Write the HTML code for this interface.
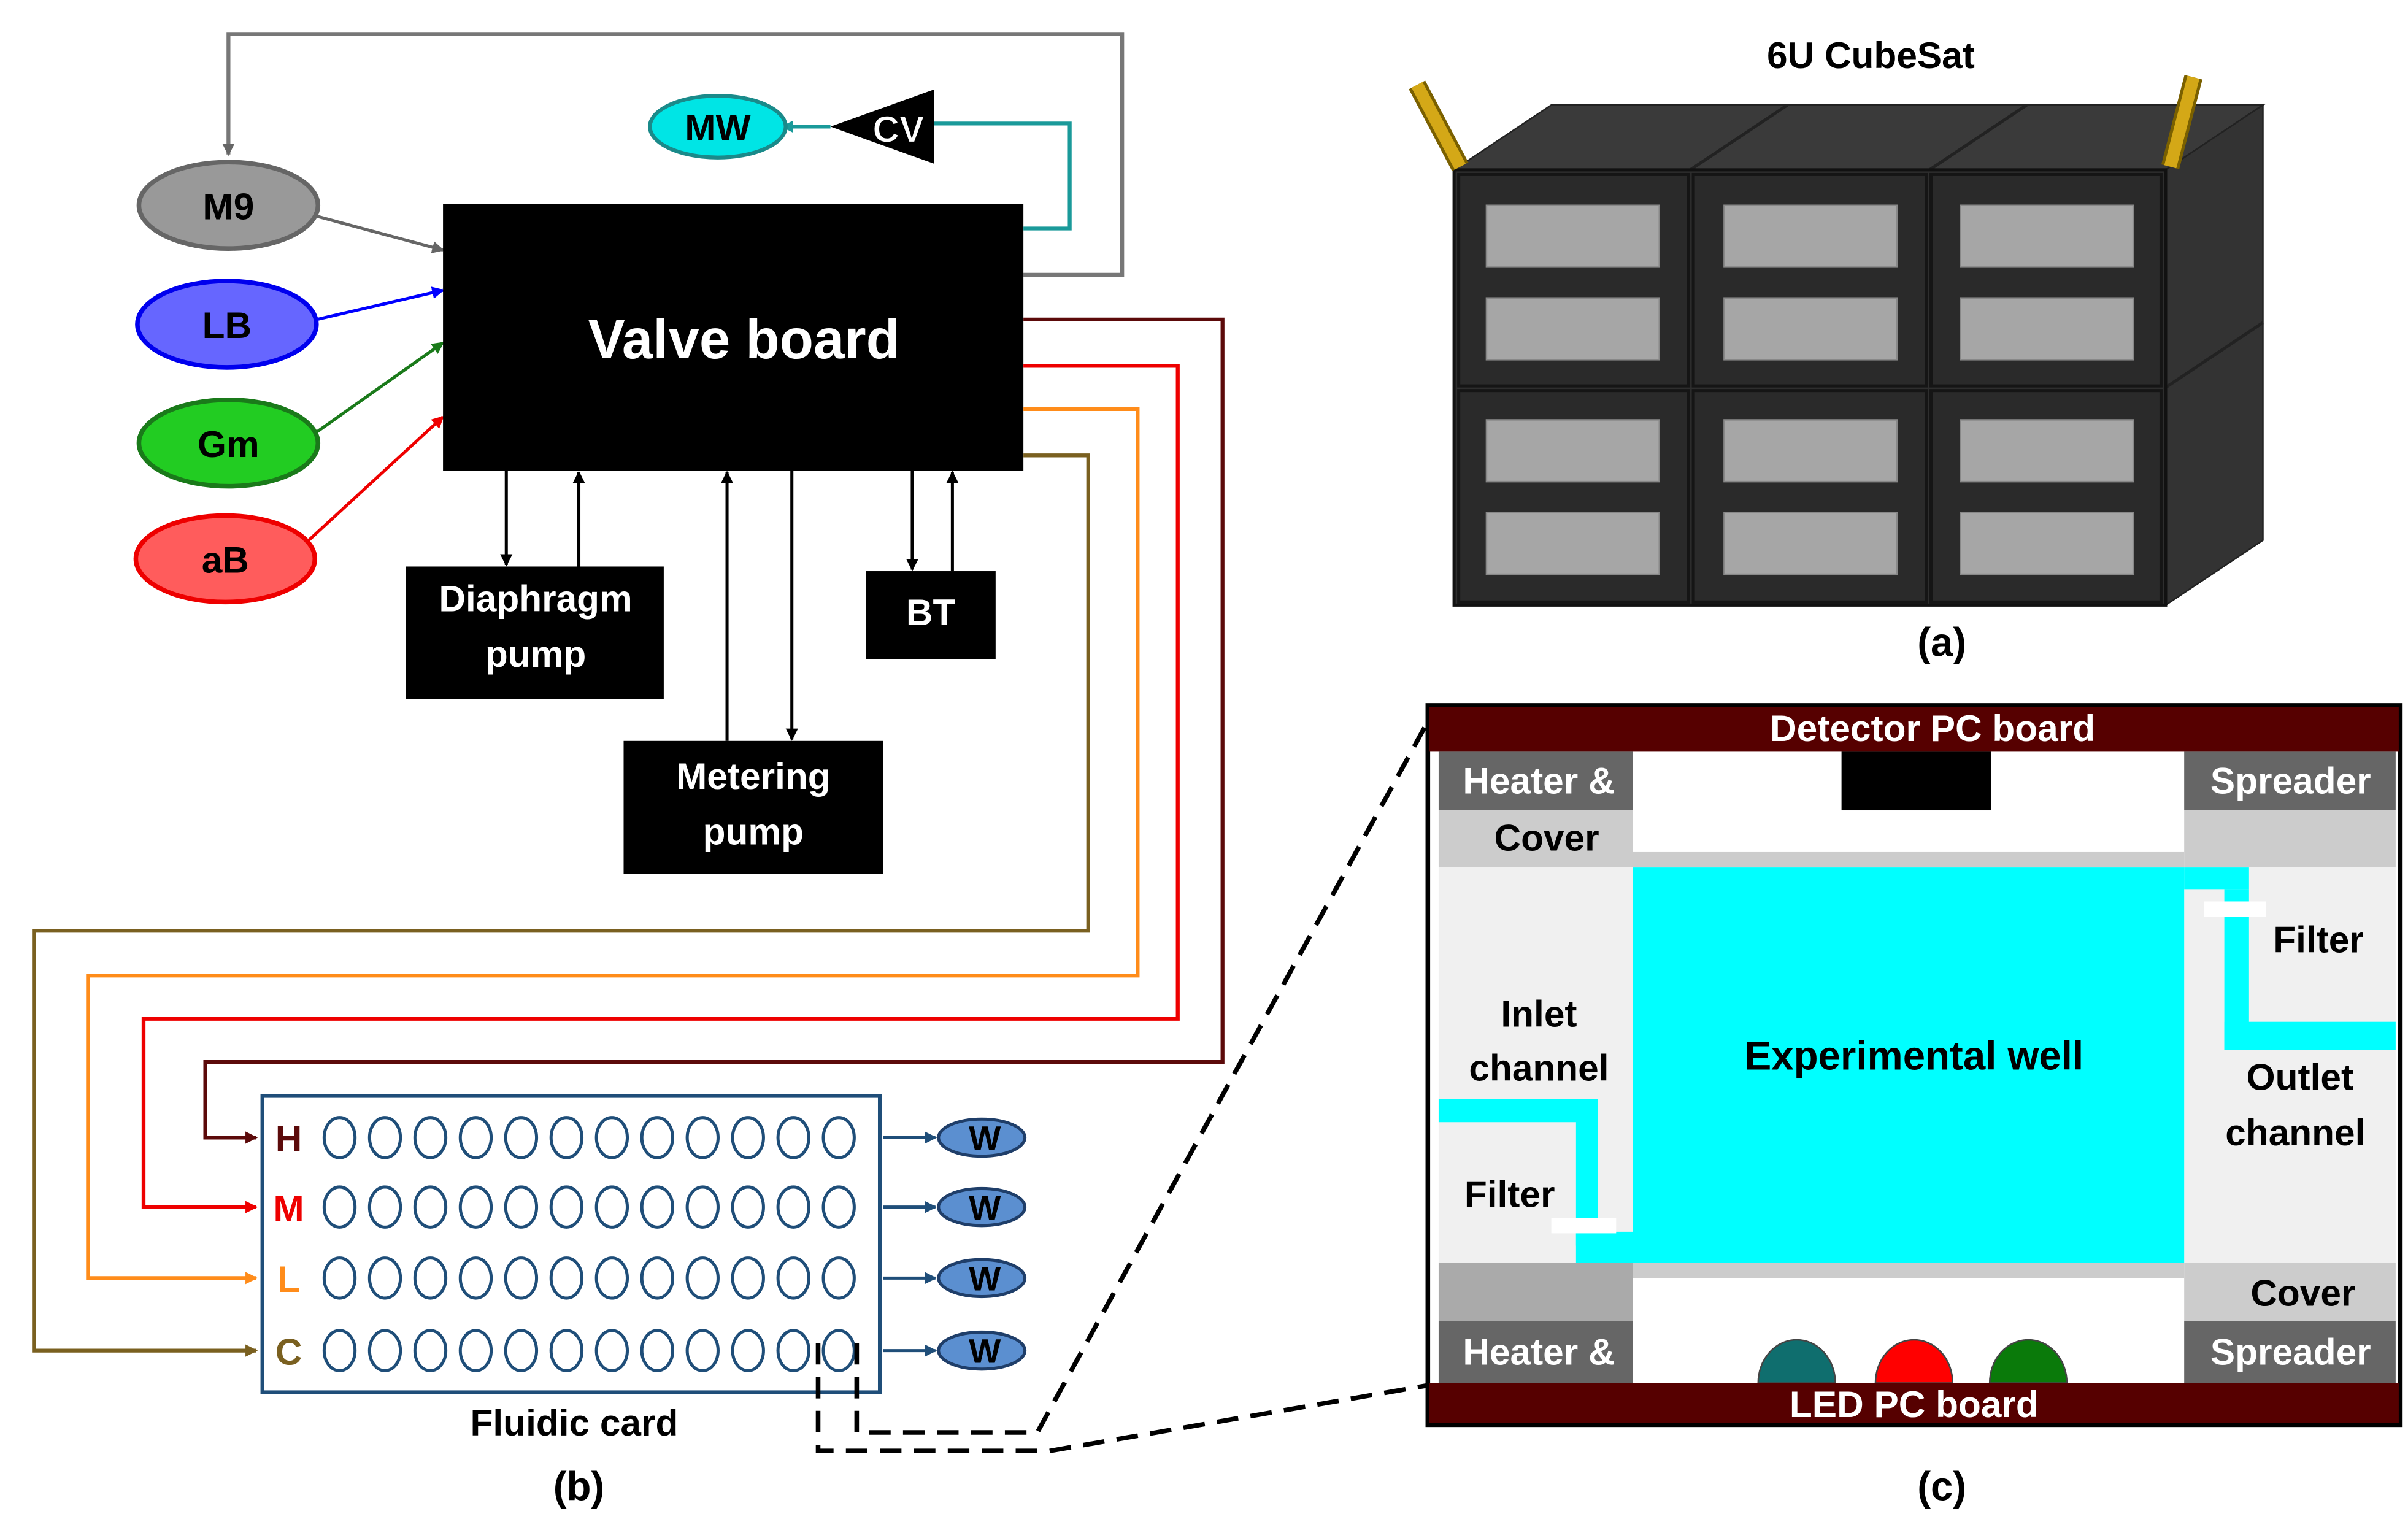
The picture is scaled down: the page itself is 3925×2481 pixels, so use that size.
<!DOCTYPE html>
<html><head><meta charset="utf-8"><style>
html,body{margin:0;padding:0;background:#fff}
svg{display:block}
text{font-family:"Liberation Sans",Arial,sans-serif;font-weight:bold}
</style></head><body>
<svg width="3925" height="2481" viewBox="0 0 1560 986" xmlns="http://www.w3.org/2000/svg">
<defs>
<marker id="ak" markerWidth="8" markerHeight="8" refX="7" refY="4" orient="auto" markerUnits="userSpaceOnUse"><path d="M0,0 L8,4 L0,8 z" fill="#000"/></marker>
<marker id="ag" markerWidth="8" markerHeight="8" refX="7" refY="4" orient="auto" markerUnits="userSpaceOnUse"><path d="M0,0 L8,4 L0,8 z" fill="#666"/></marker>
<marker id="ab" markerWidth="8" markerHeight="8" refX="7" refY="4" orient="auto" markerUnits="userSpaceOnUse"><path d="M0,0 L8,4 L0,8 z" fill="#00f"/></marker>
<marker id="agr" markerWidth="8" markerHeight="8" refX="7" refY="4" orient="auto" markerUnits="userSpaceOnUse"><path d="M0,0 L8,4 L0,8 z" fill="#1a7a1a"/></marker>
<marker id="ar" markerWidth="8" markerHeight="8" refX="7" refY="4" orient="auto" markerUnits="userSpaceOnUse"><path d="M0,0 L8,4 L0,8 z" fill="#e00"/></marker>
<marker id="at" markerWidth="8" markerHeight="8" refX="7" refY="4" orient="auto" markerUnits="userSpaceOnUse"><path d="M0,0 L8,4 L0,8 z" fill="#1a9a9a"/></marker>
<marker id="adr" markerWidth="8" markerHeight="8" refX="7" refY="4" orient="auto" markerUnits="userSpaceOnUse"><path d="M0,0 L8,4 L0,8 z" fill="#5c0a0a"/></marker>
<marker id="ao" markerWidth="8" markerHeight="8" refX="7" refY="4" orient="auto" markerUnits="userSpaceOnUse"><path d="M0,0 L8,4 L0,8 z" fill="#ff8c1a"/></marker>
<marker id="aol" markerWidth="8" markerHeight="8" refX="7" refY="4" orient="auto" markerUnits="userSpaceOnUse"><path d="M0,0 L8,4 L0,8 z" fill="#7a6020"/></marker>
<marker id="an" markerWidth="8" markerHeight="8" refX="7" refY="4" orient="auto" markerUnits="userSpaceOnUse"><path d="M0,0 L8,4 L0,8 z" fill="#1f4e79"/></marker>
</defs>

<!-- top gray loop -->
<polyline points="663,178 727,178 727,22 148,22 148,100" fill="none" stroke="#777" stroke-width="2.5" marker-end="url(#ag)"/>
<!-- ellipses -->
<ellipse cx="148" cy="133" rx="58" ry="28" fill="#999" stroke="#666" stroke-width="3"/>
<text x="148" y="142" text-anchor="middle" font-size="24">M9</text>
<ellipse cx="147" cy="210" rx="58" ry="28" fill="#6666ff" stroke="#0000ee" stroke-width="3"/>
<text x="147" y="219" text-anchor="middle" font-size="24">LB</text>
<ellipse cx="148" cy="287" rx="58" ry="28" fill="#22cc22" stroke="#1a7a1a" stroke-width="3"/>
<text x="148" y="296" text-anchor="middle" font-size="24">Gm</text>
<ellipse cx="146" cy="362" rx="58" ry="28" fill="#ff5c5c" stroke="#e00" stroke-width="3"/>
<text x="146" y="371" text-anchor="middle" font-size="24">aB</text>
<line x1="205" y1="140" x2="287" y2="162" stroke="#666" stroke-width="2" marker-end="url(#ag)"/>
<line x1="205" y1="207" x2="287" y2="188" stroke="#00f" stroke-width="2" marker-end="url(#ab)"/>
<line x1="205" y1="280" x2="287" y2="222" stroke="#1a7a1a" stroke-width="2" marker-end="url(#agr)"/>
<line x1="200" y1="350" x2="287" y2="270" stroke="#e00" stroke-width="2" marker-end="url(#ar)"/>

<!-- valve board -->
<rect x="287" y="132" width="376" height="173" fill="#000"/>
<text x="482" y="232" text-anchor="middle" font-size="36" fill="#fff">Valve board</text>

<!-- CV / MW -->
<polyline points="663,148 693,148 693,80 605,80" fill="none" stroke="#1a9a9a" stroke-width="2.5"/>
<polygon points="538,82 605,58 605,106" fill="#000"/>
<text x="582" y="92" text-anchor="middle" font-size="24" fill="#fff" stroke="#000" stroke-width="0.5">CV</text>
<line x1="538" y1="82" x2="507" y2="82" stroke="#1a9a9a" stroke-width="2.5" marker-end="url(#at)"/>
<ellipse cx="465" cy="82" rx="44" ry="20" fill="#00e5e5" stroke="#1a8a8a" stroke-width="2.5"/>
<text x="465" y="91" text-anchor="middle" font-size="24">MW</text>

<!-- colored lines to card -->
<polyline points="663,207 792,207 792,688 133,688 133,737 166,737" fill="none" stroke="#5c0a0a" stroke-width="2.5" marker-end="url(#adr)"/>
<polyline points="663,237 763,237 763,660 93,660 93,782 166,782" fill="none" stroke="#e00" stroke-width="2.5" marker-end="url(#ar)"/>
<polyline points="663,265 737,265 737,632 57,632 57,828 166,828" fill="none" stroke="#ff8c1a" stroke-width="2.5" marker-end="url(#ao)"/>
<polyline points="663,295 705,295 705,603 22,603 22,875 166,875" fill="none" stroke="#7a6020" stroke-width="2.5" marker-end="url(#aol)"/>

<!-- pumps -->
<rect x="263" y="367" width="167" height="86" fill="#000"/>
<text x="347" y="396" text-anchor="middle" font-size="24" fill="#fff">Diaphragm</text>
<text x="347" y="432" text-anchor="middle" font-size="24" fill="#fff">pump</text>
<line x1="328" y1="305" x2="328" y2="366" stroke="#000" stroke-width="2" marker-end="url(#ak)"/>
<line x1="375" y1="367" x2="375" y2="306" stroke="#000" stroke-width="2" marker-end="url(#ak)"/>
<rect x="404" y="480" width="168" height="86" fill="#000"/>
<text x="488" y="511" text-anchor="middle" font-size="24" fill="#fff">Metering</text>
<text x="488" y="547" text-anchor="middle" font-size="24" fill="#fff">pump</text>
<line x1="471" y1="480" x2="471" y2="306" stroke="#000" stroke-width="2" marker-end="url(#ak)"/>
<line x1="513" y1="305" x2="513" y2="479" stroke="#000" stroke-width="2" marker-end="url(#ak)"/>
<rect x="561" y="370" width="84" height="57" fill="#000"/>
<text x="603" y="405" text-anchor="middle" font-size="24" fill="#fff">BT</text>
<line x1="591" y1="305" x2="591" y2="369" stroke="#000" stroke-width="2" marker-end="url(#ak)"/>
<line x1="617" y1="370" x2="617" y2="306" stroke="#000" stroke-width="2" marker-end="url(#ak)"/>

<!-- fluidic card -->
<rect x="170" y="710" width="400" height="192" fill="#fff" stroke="#1f4e79" stroke-width="2.5"/>
<text x="187" y="746" text-anchor="middle" font-size="24" fill="#5c0a0a">H</text>
<text x="187" y="791" text-anchor="middle" font-size="24" fill="#e00">M</text>
<text x="187" y="837" text-anchor="middle" font-size="24" fill="#ff8c1a">L</text>
<text x="187" y="884" text-anchor="middle" font-size="24" fill="#7a6020">C</text>
<g fill="none" stroke="#1f4e79" stroke-width="2">
<g id="row">
<ellipse cx="220" cy="737" rx="10" ry="13"/><ellipse cx="249.4" cy="737" rx="10" ry="13"/><ellipse cx="278.8" cy="737" rx="10" ry="13"/><ellipse cx="308.2" cy="737" rx="10" ry="13"/><ellipse cx="337.6" cy="737" rx="10" ry="13"/><ellipse cx="367" cy="737" rx="10" ry="13"/><ellipse cx="396.4" cy="737" rx="10" ry="13"/><ellipse cx="425.8" cy="737" rx="10" ry="13"/><ellipse cx="455.2" cy="737" rx="10" ry="13"/><ellipse cx="484.6" cy="737" rx="10" ry="13"/><ellipse cx="514" cy="737" rx="10" ry="13"/><ellipse cx="543.4" cy="737" rx="10" ry="13"/>
</g>
<use href="#row" y="45"/><use href="#row" y="91"/><use href="#row" y="138"/>
</g>
<g stroke="#1f4e79" stroke-width="2">
<line x1="572" y1="737" x2="606" y2="737" marker-end="url(#an)"/>
<line x1="572" y1="782" x2="606" y2="782" marker-end="url(#an)"/>
<line x1="572" y1="828" x2="606" y2="828" marker-end="url(#an)"/>
<line x1="572" y1="875" x2="606" y2="875" marker-end="url(#an)"/>
</g>
<g fill="#5b8fd0" stroke="#1f3e69" stroke-width="2">
<ellipse cx="636" cy="737" rx="28" ry="12"/><ellipse cx="636" cy="782" rx="28" ry="12"/><ellipse cx="636" cy="828" rx="28" ry="12"/><ellipse cx="636" cy="875" rx="28" ry="12"/>
</g>
<g font-size="22" text-anchor="middle"><text x="638" y="745">W</text><text x="638" y="790">W</text><text x="638" y="836">W</text><text x="638" y="883">W</text></g>
<text x="372" y="930" text-anchor="middle" font-size="24">Fluidic card</text>
<text x="375" y="972" text-anchor="middle" font-size="26">(b)</text>

<!-- dashed zoom -->
<g fill="none" stroke="#000" stroke-width="3" stroke-dasharray="14,8">
<polyline points="530,870 530,940 680,940 928,897"/>
<polyline points="555,870 555,928 672,928 928,462"/>
</g>

<!-- cubesat -->
<text x="1212" y="44" text-anchor="middle" font-size="24">6U CubeSat</text>
<polygon points="942,110 1005,68 1466,68 1403,110" fill="#3a3a3a" stroke="#222"/>
<line x1="1095" y1="110" x2="1158" y2="68" stroke="#222" stroke-width="2"/>
<line x1="1250" y1="110" x2="1313" y2="68" stroke="#222" stroke-width="2"/>
<polygon points="1403,110 1466,68 1466,350 1403,392" fill="#333" stroke="#222"/>
<line x1="1403" y1="251" x2="1466" y2="209" stroke="#222" stroke-width="2"/>
<rect x="942" y="110" width="461" height="282" fill="#2e2e2e" stroke="#111" stroke-width="2"/>
<g fill="#2a2a2a" stroke="#151515" stroke-width="2">
<rect x="945" y="113" width="149" height="137"/><rect x="1097" y="113" width="151" height="137"/><rect x="1251" y="113" width="149" height="137"/>
<rect x="945" y="253" width="149" height="137"/><rect x="1097" y="253" width="151" height="137"/><rect x="1251" y="253" width="149" height="137"/>
</g>
<g fill="#a6a6a6" stroke="#888">
<rect x="963" y="133" width="112" height="40"/><rect x="963" y="193" width="112" height="40"/>
<rect x="1117" y="133" width="112" height="40"/><rect x="1117" y="193" width="112" height="40"/>
<rect x="1270" y="133" width="112" height="40"/><rect x="1270" y="193" width="112" height="40"/>
<rect x="963" y="272" width="112" height="40"/><rect x="963" y="332" width="112" height="40"/>
<rect x="1117" y="272" width="112" height="40"/><rect x="1117" y="332" width="112" height="40"/>
<rect x="1270" y="272" width="112" height="40"/><rect x="1270" y="332" width="112" height="40"/>
</g>
<line x1="918" y1="55" x2="946" y2="108" stroke="#7a6000" stroke-width="12"/>
<line x1="918" y1="55" x2="946" y2="108" stroke="#d4a817" stroke-width="8"/>
<line x1="1421" y1="50" x2="1406" y2="108" stroke="#7a6000" stroke-width="12"/>
<line x1="1421" y1="50" x2="1406" y2="108" stroke="#d4a817" stroke-width="8"/>
<text x="1258" y="425" text-anchor="middle" font-size="26">(a)</text>

<!-- panel c -->
<rect x="925" y="457" width="630" height="466" fill="#fff" stroke="#000" stroke-width="3"/>
<rect x="926" y="458" width="628" height="29" fill="#560000"/>
<text x="1252" y="480" text-anchor="middle" font-size="24" fill="#fff">Detector PC board</text>
<rect x="932" y="487" width="126" height="38" fill="#666"/>
<rect x="932" y="525" width="126" height="37" fill="#ccc"/>
<rect x="1415" y="487" width="137" height="38" fill="#666"/>
<rect x="1415" y="525" width="137" height="37" fill="#ccc"/>
<rect x="1058" y="552" width="357" height="10" fill="#ccc"/>
<rect x="1193" y="487" width="97" height="38" fill="#000"/>
<rect x="932" y="562" width="126" height="256" fill="#f0f0f0"/>
<rect x="1415" y="562" width="137" height="256" fill="#f0f0f0"/>
<rect x="1058" y="562" width="357" height="256" fill="#00ffff"/>
<!-- outlet -->
<rect x="1415" y="562" width="42" height="14" fill="#00ffff"/>
<rect x="1441" y="576" width="16" height="104" fill="#00ffff"/>
<rect x="1441" y="662" width="111" height="18" fill="#00ffff"/>
<rect x="1428" y="584" width="40" height="10" fill="#fff"/>
<!-- inlet -->
<rect x="932" y="712" width="92" height="15" fill="#00ffff"/>
<rect x="1021" y="712" width="14" height="95" fill="#00ffff"/>
<rect x="1021" y="798" width="40" height="20" fill="#00ffff"/>
<rect x="1005" y="789" width="42" height="10" fill="#fff"/>
<rect x="932" y="818" width="126" height="38" fill="#aaa"/>
<rect x="1058" y="818" width="357" height="10" fill="#ccc"/>
<rect x="1415" y="818" width="137" height="38" fill="#ccc"/>
<rect x="932" y="856" width="126" height="40" fill="#666"/>
<rect x="1415" y="856" width="137" height="40" fill="#666"/>
<path d="M1139,896 A25,28 0 0 1 1189,896 Z" fill="#0f6e6e" stroke="#444"/>
<path d="M1215,896 A25,28 0 0 1 1265,896 Z" fill="#ff0000" stroke="#444"/>
<path d="M1289,896 A25,28 0 0 1 1339,896 Z" fill="#0a7a0a" stroke="#444"/>
<rect x="926" y="896" width="628" height="26" fill="#560000"/>
<text x="1240" y="918" text-anchor="middle" font-size="24" fill="#fff">LED PC board</text>
<g font-size="24">
<text x="997" y="514" text-anchor="middle" fill="#fff">Heater &amp;</text>
<text x="1002" y="551" text-anchor="middle">Cover</text>
<text x="1484" y="514" text-anchor="middle" fill="#fff">Spreader</text>
<text x="997" y="665" text-anchor="middle">Inlet</text>
<text x="997" y="700" text-anchor="middle">channel</text>
<text x="978" y="782" text-anchor="middle">Filter</text>
<text x="1502" y="617" text-anchor="middle">Filter</text>
<text x="1490" y="706" text-anchor="middle">Outlet</text>
<text x="1487" y="742" text-anchor="middle">channel</text>
<text x="1240" y="693" text-anchor="middle" font-size="26">Experimental well</text>
<text x="1492" y="846" text-anchor="middle">Cover</text>
<text x="997" y="884" text-anchor="middle" fill="#fff">Heater &amp;</text>
<text x="1484" y="884" text-anchor="middle" fill="#fff">Spreader</text>
</g>
<text x="1258" y="972" text-anchor="middle" font-size="26">(c)</text>
</svg>
</body></html>
